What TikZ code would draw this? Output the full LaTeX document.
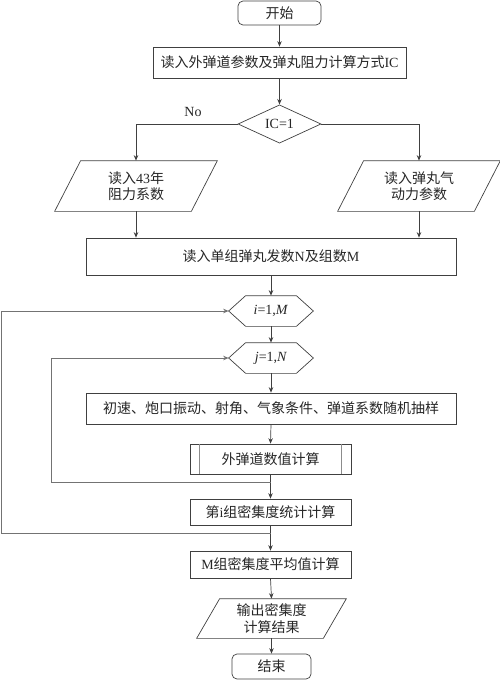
\documentclass[tikz,border=0pt]{standalone}
\usepackage{fontspec}
\setmainfont{Liberation Serif}
\newfontfamily\cjk{Noto Sans CJK SC}
\usetikzlibrary{arrows.meta,shapes.geometric,calc}
\newcommand{\zh}[1]{{\cjk #1}}
\begin{document}
\begin{tikzpicture}[x=1pt,y=-1pt,
  line width=0.7pt,
  every node/.style={font=\fontsize{14}{16.5}\selectfont, inner sep=0pt, text=black!85, align=center},
  box/.style={draw=black!75, rectangle},
  term/.style={draw=black!75, rectangle, rounded corners=5pt},
  ghost/.style={rectangle, draw=none},
  shp/.style={draw=black!75},
  arr/.style={draw=black!75, -{Stealth[length=5.5pt,width=4.5pt]}},
  loopln/.style={draw=black!55, -{Stealth[length=5.5pt,width=4.5pt]}}
]
\useasboundingbox (0,0) rectangle (500,680);

% nodes
\node[term, minimum width=83pt, minimum height=24pt] (st) at (279.5,13) {\zh{开始}};
\node[box, minimum width=253pt, minimum height=31pt] (b1) at (279.5,62.5) {\zh{读入外弹道参数及弹丸阻力计算方式}IC};
\node[diamond, draw=black!75, minimum width=83pt, minimum height=38pt] (dia) at (279.5,124) {IC=1};
\node (no) at (193,112) {No};

\node[ghost, minimum width=136pt, minimum height=50pt] (p1) at (136,186) {\zh{读入}43\zh{年}\\\zh{阻力系数}};
\node[ghost, minimum width=136pt, minimum height=50pt] (p2) at (419,186) {\zh{读入弹丸气}\\\zh{动力参数}};

\node[box, minimum width=370pt, minimum height=37pt] (b2) at (271,256.5) {\zh{读入单组弹丸发数}N\zh{及组数}M};

\node[ghost, minimum width=84pt, minimum height=30pt] (hi) at (271,311) {\textit{i}=1,\textit{M}};
\node[ghost, minimum width=84pt, minimum height=30pt] (hj) at (271,358) {\textit{j}=1,\textit{N}};

\node[box, minimum width=370pt, minimum height=31pt] (b3) at (271,408.5) {\zh{初速、炮口振动、射角、气象条件、弹道系数随机抽样}};
\node[box, minimum width=161pt, minimum height=30pt] (b4) at (270.5,459) {\zh{外弹道数值计算}};
\node[box, minimum width=161pt, minimum height=26pt] (b5) at (270.5,512) {\zh{第}i\zh{组密集度统计计算}};
\node[box, minimum width=161pt, minimum height=27pt] (b6) at (270.5,564.5) {M\zh{组密集度平均值计算}};
\node[ghost, minimum width=126pt, minimum height=39pt] (po) at (271.5,618.5) {\zh{输出密集度}\\\zh{计算结果}};
\node[term, minimum width=79pt, minimum height=25pt] (en) at (271.5,666.5) {\zh{结束}};

% custom shapes
\newcommand{\parashape}[2]{\draw[shp] ($(#1.north west)+(#2,0)$) -- ($(#1.north east)+(#2,0)$) -- ($(#1.south east)-(#2,0)$) -- ($(#1.south west)-(#2,0)$) -- cycle;}
\parashape{p1}{13}
\parashape{p2}{13}
\parashape{po}{11.5}
\newcommand{\hexshape}[2]{\draw[shp] (#1.west) -- ($(#1.north west)+(#2,0)$) -- ($(#1.north east)-(#2,0)$) -- (#1.east) -- ($(#1.south east)-(#2,0)$) -- ($(#1.south west)+(#2,0)$) -- cycle;}
\hexshape{hi}{17}
\hexshape{hj}{17}
\draw[draw=black!45] ($(b4.north west)+(10,0)$) -- ($(b4.south west)+(10,0)$);
\draw[draw=black!45] ($(b4.north east)-(10,0)$) -- ($(b4.south east)-(10,0)$);

% connectors
\draw[arr] (st.south) -- (b1.north);
\draw[arr] (b1.south) -- (dia.north);
\draw[arr] (dia.west) -| (p1.north);
\draw[arr] (dia.east) -| (p2.north);
\draw[arr] (p1.south) -- (p1.south |- b2.north);
\draw[arr] (p2.south) -- (p2.south |- b2.north);
\draw[arr] (b2.south) -- (hi.north);
\draw[arr] (hi.south) -- (hj.north);
\draw[arr] (hj.south) -- (b3.north);
\draw[arr] (b3.south) -- (b4.north);
\draw[arr] (b4.south) -- (b5.north);
\draw[arr] (b5.south) -- (b6.north);
\draw[arr] (b6.south) -- (po.north);
\draw[arr] (po.south) -- (en.north);

\coordinate (c1) at (270.5,482);
\coordinate (l1) at (51,482);
\draw[loopln] (c1) -- (l1) |- (hj.west);
\coordinate (c2) at (270.5,533);
\coordinate (l2) at (1,533);
\draw[loopln] (c2) -- (l2) |- (hi.west);
\end{tikzpicture}
\end{document}
